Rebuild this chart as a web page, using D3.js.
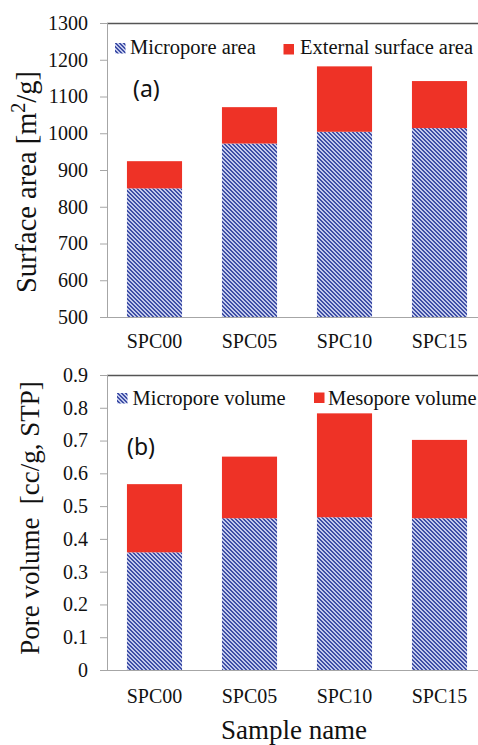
<!DOCTYPE html>
<html>
<head>
<meta charset="utf-8">
<script src="https://cdn.jsdelivr.net/npm/d3@7/dist/d3.min.js"></script>
<style>
  html, body { margin: 0; padding: 0; background: #fff; }
  svg { display: block; }
  svg#chart text, svg#chart tspan { font-family: "Liberation Serif", serif !important; }
  svg#chart text.tag { font-family: "Noto Sans", sans-serif !important; }
</style>
</head>
<body>
<svg id="chart" width="478" height="745"></svg>
<script>
// Sample names shared by both panels
const samples = ["SPC00", "SPC05", "SPC10", "SPC15"];

// (a) Surface area [m2/g]
const microporeArea = [850, 972, 1004, 1014];
const externalArea = [74, 99, 178, 128];
const areaTicks = [500, 600, 700, 800, 900, 1000, 1100, 1200, 1300];

// (b) Pore volume [cc/g, STP]
const microporeVolume = [0.359, 0.463, 0.466, 0.463];
const mesoporeVolume = [0.208, 0.188, 0.317, 0.239];
const volumeTicks = [0, 0.1, 0.2, 0.3, 0.4, 0.5, 0.6, 0.7, 0.8, 0.9];

const RED = "#ee3226";
const SERIF_CSS = "font-family: 'Liberation Serif', serif !important";
const SANS_CSS = "font-family: 'Noto Sans', sans-serif !important";

const svg = d3.select("#chart");

// Hatched fill: dark blue downward diagonal on pale blue
const defs = svg.append("defs");
const pat = defs.append("pattern")
  .attr("id", "hatch")
  .attr("patternUnits", "userSpaceOnUse")
  .attr("width", 4).attr("height", 4);
pat.append("rect").attr("width", 4).attr("height", 4).attr("fill", "#c3caec");
for (let r = 0; r < 4; r++) {
  for (let k = 0; k < 2; k++) {
    pat.append("rect")
      .attr("x", (r + k) % 4).attr("y", r)
      .attr("width", 1).attr("height", 1)
      .attr("fill", "#3f4fa6");
  }
}

const plotLeft = 107, plotRight = 487;

const x = d3.scaleBand()
  .domain(samples)
  .range([plotLeft, plotRight])
  .paddingInner(0.42)
  .paddingOuter(0.21);

function serifText(sel, size) {
  return sel.attr("font-family", "Liberation Serif")
    .attr("style", SERIF_CSS + "; font-size: " + size + "px");
}

function panel(cfg) {
  const y = d3.scaleLinear().domain(cfg.domain).range([cfg.bottom, cfg.top]);
  const g = svg.append("g");

  const rows = samples.map((s, i) => ({ sample: s, a: cfg.series[0][i], b: cfg.series[1][i] }));
  const stacked = d3.stack().keys(["a", "b"])(rows);
  const fills = ["url(#hatch)", RED];
  const lo = cfg.domain[0];

  stacked.forEach((layer, li) => {
    g.append("g").selectAll("rect")
      .data(layer)
      .join("rect")
      .attr("x", d => x(d.data.sample))
      .attr("width", x.bandwidth())
      .attr("y", d => y(d[1]))
      .attr("height", d => y(Math.max(d[0], lo)) - y(d[1]))
      .attr("fill", fills[li]);
  });

  // top border of plot area
  g.append("line")
    .attr("x1", plotLeft).attr("x2", plotRight)
    .attr("y1", cfg.top + 0.5).attr("y2", cfg.top + 0.5)
    .attr("stroke", "#555").attr("stroke-width", 1.4);

  // left value axis
  const ya = g.append("g")
    .attr("transform", `translate(${plotLeft},0)`)
    .call(d3.axisLeft(y).tickValues(cfg.ticks).tickSize(7).tickPadding(12)
      .tickFormat(cfg.fmt));
  ya.attr("font-family", null).attr("font-size", null);
  ya.select(".domain").attr("stroke", "#a6a6a6").attr("d", `M0.5,${cfg.top}V${cfg.bottom}`);
  ya.selectAll(".tick line").attr("stroke", "#a6a6a6");
  serifText(ya.selectAll(".tick text").attr("fill", "#111"), 20);

  // bottom category axis
  g.append("line")
    .attr("x1", plotLeft - 7).attr("x2", plotRight)
    .attr("y1", cfg.bottom + 0.5).attr("y2", cfg.bottom + 0.5)
    .attr("stroke", "#a6a6a6");
  serifText(g.append("g").selectAll("text")
    .data(samples)
    .join("text")
    .attr("x", d => x(d) + x.bandwidth() / 2)
    .attr("y", cfg.labelY)
    .attr("text-anchor", "middle")
    .attr("fill", "#111")
    .text(d => d), 20);

  // legend
  cfg.legend.forEach((it, i) => {
    g.append("rect")
      .attr("x", it.mx).attr("y", it.my).attr("width", 10.5).attr("height", 10.5)
      .attr("fill", fills[i]);
    serifText(g.append("text")
      .attr("x", it.tx).attr("y", it.ty)
      .attr("fill", "#111")
      .text(it.label), 20.5);
  });

  // panel tag
  g.append("text")
    .attr("class", "tag")
    .attr("x", cfg.tag.x).attr("y", cfg.tag.y)
    .attr("fill", "#111")
    .attr("font-family", "Noto Sans")
    .attr("style", SANS_CSS + "; font-size: 23px")
    .text(cfg.tag.text);

  return g;
}

panel({
  domain: [500, 1300], top: 23, bottom: 317,
  ticks: areaTicks, fmt: d3.format("d"),
  series: [microporeArea, externalArea],
  labelY: 348,
  legend: [
    { mx: 115, my: 43, tx: 130, ty: 53.5, label: "Micropore area" },
    { mx: 283.5, my: 44, tx: 300, ty: 53.5, label: "External surface area" }
  ],
  tag: { x: 133, y: 96.5, text: "(a)" }
});

panel({
  domain: [0, 0.9], top: 375, bottom: 670,
  ticks: volumeTicks, fmt: d => d === 0 ? "0" : d3.format(".1f")(d),
  series: [microporeVolume, mesoporeVolume],
  labelY: 703,
  legend: [
    { mx: 117, my: 393, tx: 132.5, ty: 405, label: "Micropore volume" },
    { mx: 314, my: 392.5, tx: 328, ty: 405, label: "Mesopore volume" }
  ],
  tag: { x: 127, y: 455, text: "(b)" }
});

// axis titles
const t1 = serifText(svg.append("text")
  .attr("transform", "translate(36,182) rotate(-90)")
  .attr("text-anchor", "middle")
  .attr("fill", "#111"), 28.5);
t1.append("tspan").text("Surface area [m");
t1.append("tspan").attr("dy", -11).attr("style", SERIF_CSS + "; font-size: 20px").text("2");
t1.append("tspan").attr("dy", 11).text("/g]");

serifText(svg.append("text")
  .attr("transform", "translate(39,518) rotate(-90)")
  .attr("text-anchor", "middle")
  .attr("fill", "#111")
  .text("Pore volume\u00a0\u00a0[cc/g, STP]"), 27);

serifText(svg.append("text")
  .attr("x", 294).attr("y", 739)
  .attr("text-anchor", "middle")
  .attr("fill", "#111")
  .text("Sample name"), 27);
</script>
</body>
</html>
